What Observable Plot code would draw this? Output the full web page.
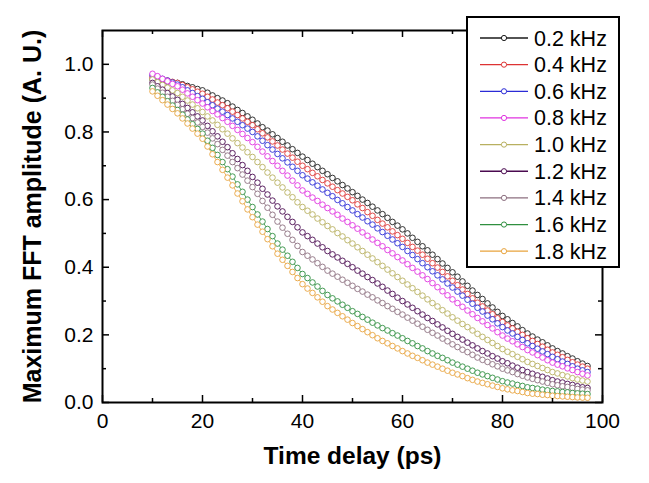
<!DOCTYPE html>
<html><head><meta charset="utf-8">
<script src="https://cdn.jsdelivr.net/npm/d3@7"></script>
<script src="https://cdn.jsdelivr.net/npm/@observablehq/plot@0.6"></script>
<style>body{margin:0;background:#fff;}</style>
</head><body><div id="chart"></div>
<script>
// ---- data ----
const delays = [10,11,12,13,14,15,16,17,18,19,20,21,22,23,24,25,26,27,28,29,30,31,32,33,34,35,36,37,38,39,40,41,42,43,44,45,46,47,48,49,50,51,52,53,54,55,56,57,58,59,60,61,62,63,64,65,66,67,68,69,70,71,72,73,74,75,76,77,78,79,80,81,82,83,84,85,86,87,88,89,90,91,92,93,94,95,96,97];
const seriesLabels = ["0.2 kHz","0.4 kHz","0.6 kHz","0.8 kHz","1.0 kHz","1.2 kHz","1.4 kHz","1.6 kHz","1.8 kHz"];
const seriesColors = ["#1a1a1a","#dd3333","#2b2bd6","#e033e0","#b8b060","#4a0a50","#8c6f7f","#2f8f3f","#e8a33c"];
const amp02 = [.955,.953,.951,.949,.947,.945,.941,.936,.932,.927,.923,.916,.908,.900,.893,.885,.875,.865,.856,.846,.836,.825,.814,.804,.793,.782,.771,.760,.749,.738,.727,.717,.706,.696,.685,.675,.664,.654,.643,.633,.622,.611,.600,.590,.579,.568,.557,.546,.534,.523,.512,.500,.487,.475,.462,.450,.437,.424,.411,.398,.385,.372,.358,.345,.331,.318,.306,.293,.281,.268,.256,.246,.235,.225,.214,.204,.195,.186,.178,.169,.160,.152,.145,.137,.130,.122,.115,.108];
const amp04 = [.962,.959,.955,.952,.948,.945,.939,.932,.926,.919,.913,.904,.896,.887,.879,.870,.860,.850,.840,.830,.820,.808,.796,.784,.772,.760,.748,.736,.724,.712,.700,.690,.679,.669,.658,.648,.638,.628,.618,.608,.598,.586,.575,.563,.552,.540,.529,.518,.506,.495,.484,.472,.460,.449,.437,.425,.412,.399,.386,.373,.360,.347,.334,.321,.308,.295,.284,.272,.261,.249,.238,.228,.219,.209,.200,.190,.182,.173,.165,.156,.148,.141,.134,.126,.119,.112,.106,.100];
const amp06 = [.968,.963,.957,.952,.946,.940,.932,.923,.915,.906,.898,.888,.879,.869,.860,.850,.840,.830,.820,.810,.800,.787,.774,.761,.748,.735,.722,.710,.697,.685,.672,.662,.651,.641,.630,.620,.610,.599,.589,.578,.568,.557,.547,.536,.526,.515,.504,.493,.482,.471,.460,.448,.436,.424,.412,.400,.388,.376,.364,.352,.340,.328,.316,.304,.292,.280,.269,.257,.246,.234,.223,.213,.204,.194,.185,.175,.167,.159,.151,.143,.135,.128,.121,.114,.107,.100,.095,.090];
const amp08 = [.972,.965,.957,.950,.942,.935,.925,.914,.904,.894,.884,.873,.862,.852,.841,.830,.818,.806,.794,.782,.770,.756,.742,.728,.714,.700,.685,.671,.656,.642,.627,.617,.606,.596,.585,.575,.565,.555,.544,.534,.524,.514,.503,.493,.482,.472,.462,.451,.441,.430,.420,.409,.398,.387,.376,.365,.353,.341,.329,.317,.305,.294,.283,.272,.261,.250,.240,.229,.219,.208,.198,.189,.181,.172,.164,.155,.148,.140,.133,.125,.118,.112,.107,.101,.096,.090,.085,.080];
const amp10 = [.955,.947,.939,.931,.923,.915,.904,.893,.881,.870,.859,.846,.834,.821,.808,.795,.781,.767,.754,.740,.726,.711,.696,.680,.665,.650,.636,.621,.607,.592,.578,.567,.556,.544,.533,.522,.512,.501,.491,.480,.470,.459,.448,.437,.426,.415,.404,.393,.382,.371,.360,.349,.338,.327,.316,.305,.294,.284,.273,.263,.252,.242,.232,.223,.213,.203,.194,.185,.176,.167,.158,.150,.143,.135,.128,.120,.114,.108,.102,.096,.090,.086,.081,.077,.072,.068,.065,.062];
const amp12 = [.945,.935,.925,.915,.905,.895,.883,.871,.858,.846,.834,.818,.802,.787,.771,.755,.737,.720,.702,.685,.667,.650,.632,.615,.597,.580,.565,.549,.534,.518,.503,.492,.481,.470,.459,.448,.438,.429,.419,.410,.400,.390,.381,.371,.362,.352,.342,.331,.321,.310,.300,.290,.280,.270,.260,.250,.241,.231,.222,.212,.203,.194,.186,.177,.169,.160,.152,.145,.137,.130,.122,.116,.109,.103,.096,.090,.085,.080,.076,.071,.066,.062,.059,.055,.052,.048,.045,.043];
const amp14 = [.940,.928,.916,.904,.892,.880,.867,.854,.841,.828,.815,.798,.781,.764,.747,.730,.711,.693,.674,.656,.637,.617,.596,.576,.555,.535,.517,.499,.481,.463,.445,.434,.423,.412,.401,.390,.381,.372,.363,.354,.345,.336,.328,.319,.311,.302,.294,.285,.277,.268,.260,.251,.242,.233,.224,.215,.206,.198,.189,.181,.172,.164,.156,.149,.141,.133,.126,.120,.113,.107,.100,.095,.090,.084,.079,.074,.070,.066,.062,.058,.054,.051,.048,.046,.043,.040,.038,.036];
const amp16 = [.930,.917,.904,.891,.878,.865,.851,.837,.823,.809,.795,.774,.753,.732,.711,.690,.668,.645,.623,.600,.578,.556,.535,.513,.492,.470,.452,.434,.416,.398,.380,.368,.355,.343,.330,.318,.308,.299,.289,.280,.270,.262,.253,.245,.236,.228,.220,.213,.205,.198,.190,.182,.175,.167,.160,.152,.145,.138,.132,.125,.118,.112,.106,.100,.094,.088,.083,.078,.073,.068,.063,.059,.056,.052,.049,.045,.043,.041,.038,.036,.034,.033,.031,.030,.028,.027,.026,.025];
const amp18 = [.920,.907,.894,.881,.868,.855,.840,.825,.810,.795,.780,.757,.734,.711,.688,.665,.642,.618,.595,.571,.548,.526,.505,.483,.462,.440,.422,.404,.386,.368,.350,.337,.324,.311,.298,.285,.275,.265,.255,.245,.235,.226,.217,.208,.199,.190,.182,.175,.167,.160,.152,.145,.138,.132,.125,.118,.112,.106,.100,.094,.088,.083,.078,.072,.067,.062,.058,.054,.050,.046,.042,.039,.036,.034,.031,.028,.026,.025,.023,.022,.020,.019,.018,.017,.016,.015,.0145,.014];
const xTicks = [0,20,40,60,80,100];
const xMinorTicks = [10,30,50,70,90];
const yTicks = [0,0.2,0.4,0.6,0.8,1.0];
const yMinorTicks = [0.1,0.3,0.5,0.7,0.9];
const xTitle = "Time delay (ps)";
const yTitle = "Maximum FFT amplitude (A. U.)";

// ---- build table ----
const allSeries = [amp02,amp04,amp06,amp08,amp10,amp12,amp14,amp16,amp18];
const rows = allSeries.flatMap((vals,i)=>vals.map((v,j)=>({delay:delays[j],amp:v,series:seriesLabels[i]})));

const W=649,H=483,mL=102,mR=47,mT=30,mB=81;
const innerW=W-mL-mR, innerH=H-mT-mB;
const major=7, minor=4;
const font="'Liberation Sans', Arial, Helvetica, sans-serif";

const plot = Plot.plot({
  width:W, height:H, marginLeft:mL, marginRight:mR, marginTop:mT, marginBottom:mB,
  style:{fontFamily:font, background:"white", color:"black", overflow:"visible"},
  x:{domain:[0,100]},
  y:{domain:[0,1.1]},
  color:{domain:seriesLabels, range:seriesColors},
  marks:[
    Plot.line(rows,{x:"delay",y:"amp",z:"series",stroke:"series",strokeWidth:0.8}),
    Plot.dot(rows,{x:"delay",y:"amp",stroke:"series",fill:"white",r:2.8,strokeWidth:0.9}),
    Plot.ruleX(xTicks,{x:d=>d,insetTop:innerH-major,stroke:"black",strokeWidth:1.5}),
    Plot.ruleX(xTicks,{x:d=>d,insetBottom:innerH-major,stroke:"black",strokeWidth:1.5}),
    Plot.ruleX(xMinorTicks,{x:d=>d,insetTop:innerH-minor,stroke:"black",strokeWidth:1.5}),
    Plot.ruleX(xMinorTicks,{x:d=>d,insetBottom:innerH-minor,stroke:"black",strokeWidth:1.5}),
    Plot.ruleY(yTicks,{y:d=>d,insetRight:innerW-major,stroke:"black",strokeWidth:1.5}),
    Plot.ruleY(yTicks,{y:d=>d,insetLeft:innerW-major,stroke:"black",strokeWidth:1.5}),
    Plot.ruleY(yMinorTicks,{y:d=>d,insetRight:innerW-minor,stroke:"black",strokeWidth:1.5}),
    Plot.ruleY(yMinorTicks,{y:d=>d,insetLeft:innerW-minor,stroke:"black",strokeWidth:1.5}),
    Plot.axisX({ticks:xTicks,tickSize:0,tickPadding:11,fontSize:21,tickFormat:d=>String(d),label:null}),
    Plot.axisY({ticks:yTicks,tickSize:0,tickPadding:9,fontSize:21,tickFormat:d3.format(".1f"),label:null}),
    Plot.frame({stroke:"black",strokeWidth:2}),
    Plot.text([xTitle],{text:d=>d,frameAnchor:"bottom",dy:61,fontSize:24.5,fontWeight:"bold",textAnchor:"middle"}),
    Plot.text([yTitle],{text:d=>d,frameAnchor:"left",dx:-70,rotate:-90,fontSize:25,fontWeight:"bold",textAnchor:"middle"})
  ]
});
document.getElementById("chart").appendChild(plot);

// ---- legend (drawn over the upper-right corner, as in the reference) ----
const svg = d3.select(plot);
const lg = svg.append("g").attr("font-family",font).attr("text-anchor","start");
lg.append("rect").attr("x",467).attr("y",17).attr("width",152).attr("height",250)
  .attr("fill","white").attr("stroke","black").attr("stroke-width",2);
seriesLabels.forEach((lab,i)=>{
  const y = 38 + i*26.65;
  lg.append("line").attr("x1",480).attr("x2",528).attr("y1",y).attr("y2",y)
    .attr("stroke",seriesColors[i]).attr("stroke-width",1.3);
  lg.append("circle").attr("cx",504).attr("cy",y).attr("r",2.6)
    .attr("fill","white").attr("stroke",seriesColors[i]).attr("stroke-width",1);
  lg.append("text").attr("x",534).attr("y",y).attr("dy","0.35em").attr("text-anchor","start")
    .attr("font-size",21.5).attr("fill","black").text(lab);
});
</script>
</body></html>
